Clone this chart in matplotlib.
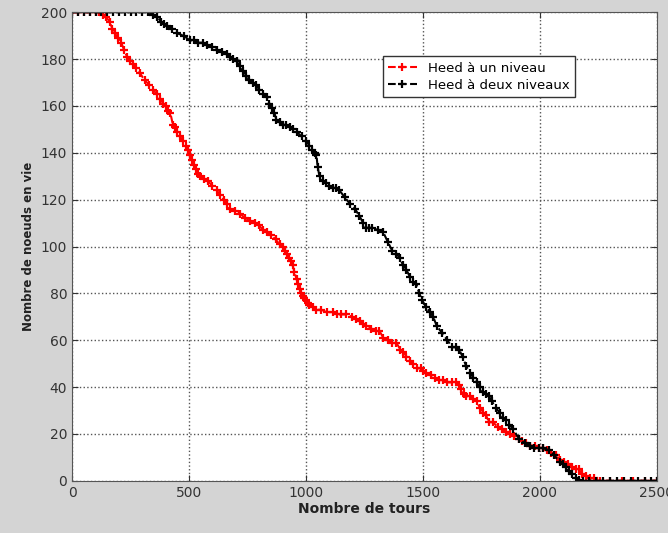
import matplotlib
matplotlib.use('Agg')
import matplotlib.pyplot as plt

matplotlib.rcParams.update({'font.family': 'DejaVu Sans', 'font.size': 10})

# Heed a un niveau (red)
rounds_1 = [0, 25, 50, 75, 100, 115, 130, 145, 160, 172, 183, 196, 210, 222, 235, 248, 260,
            275, 290, 310, 330, 346, 362, 376, 390, 400, 410, 420, 431, 440, 450, 462, 474,
            485, 495, 503, 512, 521, 530, 538, 546, 563, 580, 599, 618, 634, 650, 662, 674,
            697, 720, 740, 759, 780, 800, 816, 832, 851, 870, 887, 900, 910, 920, 929, 938,
            943, 951, 960, 967, 973, 980, 986, 993, 1000, 1008, 1015, 1030, 1045, 1065,
            1090, 1114, 1132, 1150, 1170, 1199, 1215, 1230, 1244, 1258, 1279, 1300, 1314,
            1331, 1350, 1370, 1386, 1404, 1417, 1430, 1445, 1459, 1475, 1490, 1502, 1515,
            1533, 1550, 1570, 1587, 1605, 1625, 1642, 1654, 1665, 1675, 1685, 1700, 1715,
            1730, 1745, 1758, 1770, 1783, 1800, 1820, 1840, 1856, 1873, 1891, 1910, 1925,
            1941, 1960, 1980, 1997, 2014, 2032, 2050, 2068, 2086, 2103, 2120, 2137, 2154,
            2167, 2180, 2197, 2214, 2230, 2245, 2257, 2300, 2350, 2400, 2450, 2500]
alive_1 = [200, 200, 200, 200, 200, 200, 199, 198, 196, 193, 191, 189, 187, 184, 181, 179, 178,
           176, 174, 171, 169, 167, 165, 163, 161, 160, 158, 157, 152, 151, 149, 147, 145,
           143, 141, 139, 137, 135, 133, 131, 130, 129, 128, 126, 124, 122, 120, 118, 116,
           115, 114, 112, 111, 110, 109, 107, 106, 105, 103, 101, 100, 98, 97, 95, 94,
           92, 89, 86, 84, 82, 80, 79, 78, 77, 76, 75, 74, 73, 73,
           72, 72, 71, 71, 71, 70, 69, 68, 67, 66, 65, 64, 64,
           61, 60, 59, 59, 56, 55, 53, 51, 50, 48, 48, 47, 46,
           45, 44, 43, 43, 42, 42, 42, 41, 39, 37, 36, 36, 35,
           34, 31, 29, 28, 25, 25, 23, 22, 21, 20, 19, 18, 17,
           16, 15, 15, 14, 14, 13, 12, 11, 9, 8, 7, 6, 5,
           5, 3, 2, 1, 1, 0, 0, 0, 0, 0, 0, 0]

# Heed a deux niveaux (black)
rounds_2 = [0, 25, 50, 75, 100, 125, 150, 175, 200, 225, 250, 275, 300, 325, 347, 365, 380,
            393, 405, 428, 450, 477, 503, 522, 540, 558, 576, 598, 620, 640, 661, 676, 690,
            704, 717, 731, 745, 758, 772, 786, 800, 816, 832, 844, 855, 865, 874, 887, 900,
            915, 930, 945, 960, 981, 1002, 1015, 1028, 1037, 1045, 1050, 1058, 1071, 1085,
            1100, 1114, 1130, 1143, 1166, 1190, 1210, 1229, 1245, 1258, 1271, 1284, 1308,
            1331, 1350, 1370, 1387, 1401, 1416, 1430, 1445, 1458, 1472, 1485, 1497, 1515,
            1530, 1544, 1560, 1583, 1605, 1625, 1642, 1655, 1670, 1685, 1702, 1716, 1730,
            1745, 1758, 1770, 1783, 1795, 1812, 1830, 1843, 1856, 1870, 1886, 1911, 1935,
            1958, 1975, 1997, 2014, 2039, 2060, 2086, 2100, 2112, 2125, 2140, 2154, 2167,
            2184, 2210, 2240, 2270, 2300, 2330, 2360, 2390, 2420, 2450, 2475, 2500]
alive_2 = [200, 200, 200, 200, 200, 200, 200, 200, 200, 200, 200, 200, 200, 200, 199, 198, 196,
           195, 194, 193, 191, 190, 188, 188, 187, 187, 186, 185, 184, 183, 182, 181, 180,
           179, 177, 175, 173, 171, 170, 169, 167, 165, 164, 161, 159, 157, 154, 153, 152,
           152, 151, 150, 149, 147, 145, 143, 141, 140, 139, 134, 130, 128, 127,
           126, 125, 125, 124, 121, 118, 116, 113, 110, 108, 108, 108, 107,
           106, 102, 98, 97, 95, 92, 90, 87, 85, 84, 80, 77, 74,
           72, 70, 66, 63, 60, 57, 57, 56, 53, 49, 46, 44, 42,
           40, 38, 37, 36, 34, 31, 29, 27, 26, 24, 22, 18, 16,
           15, 14, 14, 14, 13, 11, 8, 7, 6, 4, 3, 1, 0.5,
           0, 0, 0, 0, 0, 0, 0, 0, 0, 0, 0, 0]

fig = plt.figure(figsize=(6.68, 5.33), dpi=100, facecolor='#d4d4d4')
ax = fig.add_axes([0.108, 0.098, 0.875, 0.879])

ax.plot(rounds_1, alive_1, '--+', color='red', linewidth=1.5, markersize=6,
        markeredgewidth=1.6, label='Heed à un niveau')
ax.plot(rounds_2, alive_2, '--+', color='black', linewidth=1.5, markersize=6,
        markeredgewidth=1.6, label='Heed à deux niveaux')

ax.set_xlim(0, 2500)
ax.set_ylim(0, 200)
ax.set_xticks([0, 500, 1000, 1500, 2000, 2500])
ax.set_yticks(range(0, 201, 20))
ax.grid(True, linestyle=':', color='#555555', linewidth=1)
ax.tick_params(direction='in', top=True, right=True, length=4, colors='#333333',
               labelcolor='#333333')
for s in ax.spines.values():
    s.set_color('#555555')

ax.set_xlabel('Nombre de tours', fontweight='bold', fontsize=10, color='#222222', labelpad=2)
ax.set_ylabel('Nombre de noeuds en vie', fontweight='bold', fontsize=8.5, color='#222222')

leg = ax.legend(loc='upper left', bbox_to_anchor=(0.52, 0.92), fancybox=False,
                edgecolor='#333333', fontsize=9.5, handlelength=2.2, borderpad=0.4,
                labelspacing=0.3, framealpha=1)
leg.get_frame().set_linewidth(1)

fig.savefig('out.png', dpi=100, facecolor=fig.get_facecolor())
